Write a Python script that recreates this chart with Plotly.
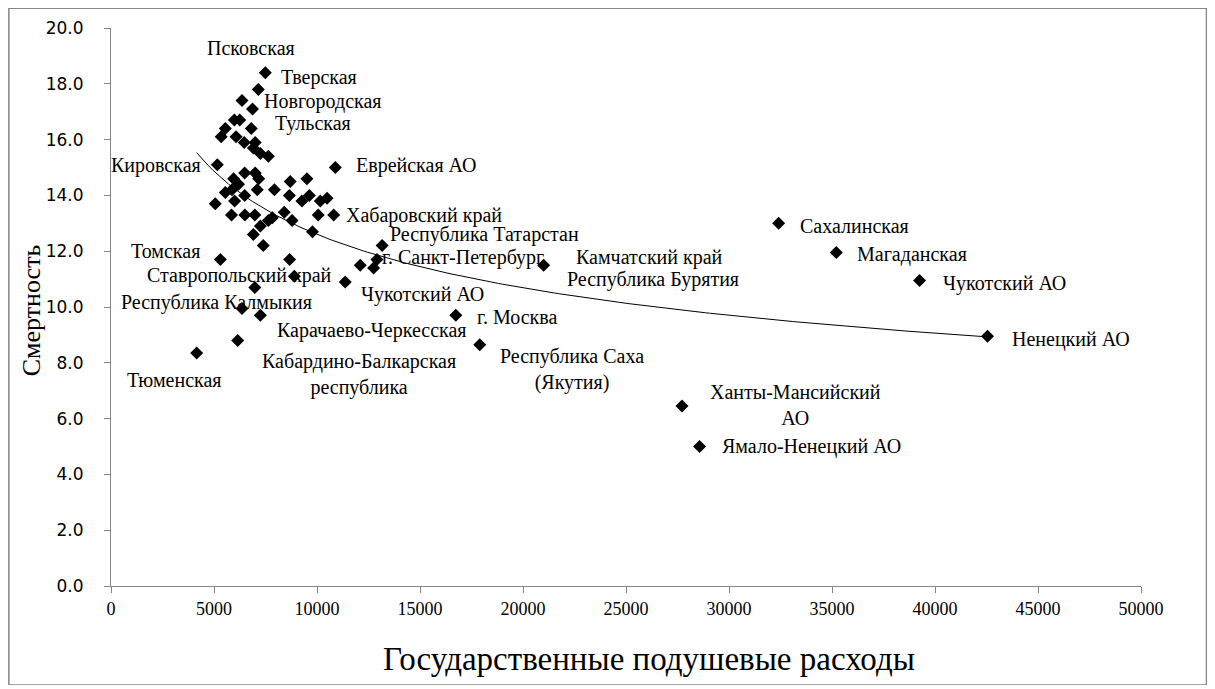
import numpy as np
import plotly.graph_objects as go

# ---- data ----
spending = [
    7490, 7150, 6360, 6870, 5990, 6250, 5550, 6810, 5350, 6070, 6470, 7000, 6910, 7250, 7640,
    5160, 10890, 6490, 7000, 7170, 5950, 8700, 9510, 6190, 5550, 5870, 6490, 6000, 7100, 7930,
    8660, 9630, 5060, 9270, 10160, 10490, 5850, 6500, 6980, 7830, 8410, 7640, 8790, 10060, 10810,
    7250, 6910, 9780, 7390,
    13160, 5310, 8670, 12910, 12100, 12750, 8900, 11370, 6980, 6360, 7250, 16740, 17900, 6150, 4160,
    21000, 32410, 35210, 39250, 42550, 27720, 28570,
]
mortality = [
    18.4, 17.8, 17.4, 17.1, 16.7, 16.7, 16.4, 16.4, 16.1, 16.1, 15.9, 15.9, 15.7, 15.5, 15.4,
    15.1, 15.0, 14.8, 14.8, 14.6, 14.6, 14.5, 14.6, 14.4, 14.1, 14.2, 14.0, 13.8, 14.2, 14.2,
    14.0, 14.0, 13.7, 13.8, 13.8, 13.9, 13.3, 13.3, 13.3, 13.2, 13.4, 13.1, 13.1, 13.3, 13.3,
    12.9, 12.6, 12.7, 12.2,
    12.2, 11.7, 11.7, 11.7, 11.5, 11.4, 11.1, 10.9, 10.7, 9.95, 9.7, 9.7, 8.65, 8.8, 8.35,
    11.5, 13.0, 11.95, 10.95, 8.95, 6.45, 5.0,
]

label_texts = [
    "Псковская", "Тверская", "Новгородская", "Тульская", "Кировская", "Еврейская АО",
    "Хабаровский край", "Республика Татарстан", "г. Санкт-Петербург", "Камчатский край",
    "Республика Бурятия", "Чукотский АО", "г. Москва", "Республика Саха<br>(Якутия)",
    "Томская", "Ставропольский край", "Республика Калмыкия", "Карачаево-Черкесская",
    "Кабардино-Балкарская<br>республика", "Тюменская", "Сахалинская", "Магаданская",
    "Чукотский АО", "Ненецкий АО", "Ханты-Мансийский<br>АО", "Ямало-Ненецкий АО",
]
label_x = [4578, 8170, 7330, 7864, 4480, 11810, 11291, 13427, 13073, 22456, 22053, 12019,
           17684, 22393, 4417, 1665, 369, 7976, 12053, 694, 33330, 36131, 40291, 43621,
           33218, 29578]
label_y = [19.28, 18.21, 17.37, 16.56, 15.06, 15.06, 13.27, 12.61, 11.78, 11.78, 10.97, 10.46,
           9.65, 7.76, 12.02, 11.12, 10.15, 9.17, 7.58, 7.38, 12.91, 11.87, 10.85, 8.84,
           6.47, 4.99]
label_anchor = ["left", "left", "left", "left", "right", "left", "left", "left", "left", "left",
                "left", "left", "left", "center", "right", "left", "left", "left", "center",
                "left", "left", "left", "left", "left", "center", "left"]

x_ticks = list(range(0, 50001, 5000))
x_tick_text = [str(v) for v in x_ticks]
y_ticks = [0, 2, 4, 6, 8, 10, 12, 14, 16, 18, 20]

# ---- power trend line (least squares on log-log) ----
xs = np.array(spending, dtype=float)
ys = np.array(mortality, dtype=float)
d, lnc = np.polyfit(np.log(xs), np.log(ys), 1)
tx = np.linspace(xs.min(), xs.max(), 200)
ty = np.exp(lnc) * tx ** d

# layout geometry (page pixels; the page body has an 8px margin)
W, H = 1199, 677
L, T = 102.7, 20.3
PW, PH = 1030.3, 557.4
R = W - L - PW
B = H - T - PH


def px(x_page):
    return (x_page - 8 - L) / PW


def py(y_page):
    return (T + PH + 8 - y_page) / PH


fig = go.Figure()
fig.add_trace(go.Scatter(x=tx, y=ty, mode="lines",
                         line=dict(color="#000000", width=1), hoverinfo="skip"))
fig.add_trace(go.Scatter(x=spending, y=mortality, mode="markers",
                         marker=dict(symbol="diamond", size=10, color="#000000")))

serif = "Liberation Serif"
for t, x, y, a in zip(label_texts, label_x, label_y, label_anchor):
    fig.add_annotation(x=x, y=y, text=t, showarrow=False, xanchor=a, yanchor="middle",
                       align="center", font=dict(family=serif, size=20, color="#000000"))

fig.add_annotation(xref="paper", yref="paper", x=px(31), y=py(310),
                   xanchor="center", yanchor="middle",
                   text="Смертность", textangle=-90, showarrow=False,
                   font=dict(family=serif, size=26, color="#000000"))
fig.add_annotation(xref="paper", yref="paper", x=px(649), y=py(659),
                   xanchor="center", yanchor="middle",
                   text="Государственные подушевые расходы", showarrow=False,
                   font=dict(family=serif, size=33, color="#000000"))

fig.add_shape(type="rect", xref="paper", yref="paper",
              x0=px(8.5), x1=px(8 + W - 0.5),
              y0=py(8 + H - 0.5), y1=py(8.5),
              line=dict(color="#868686", width=1.5))

fig.update_layout(
    width=W, height=H,
    margin=dict(l=L, r=R, t=T, b=B, autoexpand=False),
    paper_bgcolor="white", plot_bgcolor="white",
    showlegend=False,
    xaxis=dict(range=[0, 50000], tickvals=x_ticks, ticktext=x_tick_text, ticks="outside",
               ticklen=6, tickcolor="#868686", showline=True, linecolor="#868686", linewidth=1,
               showgrid=False, zeroline=False,
               tickfont=dict(family="Liberation Sans Narrow", size=18, color="#000000")),
    yaxis=dict(range=[0, 20], tickvals=y_ticks, tickformat=".1f", ticks="outside", ticklen=6,
               tickcolor="#868686", showline=True, linecolor="#868686", linewidth=1,
               showgrid=False, zeroline=False, ticklabelstandoff=17,
               tickfont=dict(family="DejaVu Sans", size=17, color="#000000")),
)

fig.write_html("out.html")
